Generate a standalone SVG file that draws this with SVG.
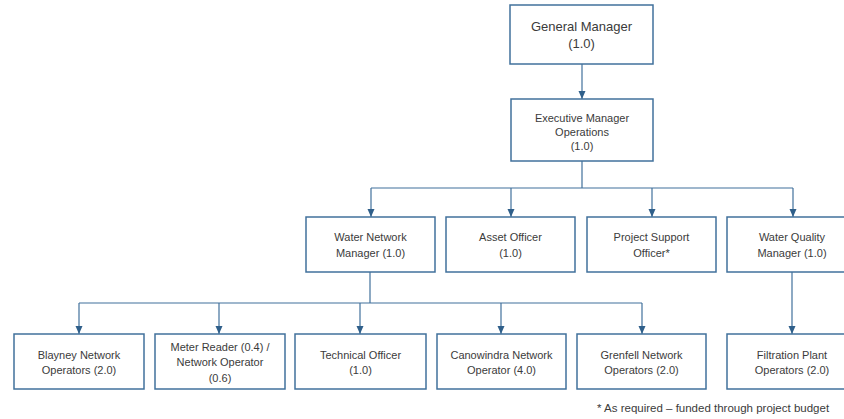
<svg xmlns="http://www.w3.org/2000/svg" width="844" height="419" viewBox="0 0 844 419">
<defs>
<marker id="arr" viewBox="0 0 8 8" refX="8" refY="4" markerWidth="8" markerHeight="8" markerUnits="userSpaceOnUse" orient="auto">
<path d="M0,0.5 L8,4 L0,7.5 Z" fill="#2f5f8a"/>
</marker>
<style>
.box{fill:#ffffff;stroke:#41719c;stroke-width:1.5}
.t{font-family:"Liberation Sans",Arial,sans-serif;font-size:11px;fill:#3b3b3b;text-anchor:middle}
.tl{font-family:"Liberation Sans",Arial,sans-serif;font-size:13px;fill:#3b3b3b;text-anchor:middle}
.c{fill:none;stroke:#41719c;stroke-width:1.2}
.ca{fill:none;stroke:#41719c;stroke-width:1.2;marker-end:url(#arr)}
</style>
</defs>
<rect width="844" height="419" fill="#ffffff"/>
<g id="connectors">
<path class="ca" d="M582,64 V99"/>
<path class="c" d="M582,161 V188 M371,188 H793"/>
<path class="ca" d="M371,188 V217"/>
<path class="ca" d="M511,188 V217"/>
<path class="ca" d="M652,188 V217"/>
<path class="ca" d="M793,188 V217"/>
<path class="c" d="M370,272 V303 M79,303 H642"/>
<path class="ca" d="M79,303 V334"/>
<path class="ca" d="M219,303 V334"/>
<path class="ca" d="M360,303 V334"/>
<path class="ca" d="M501,303 V334"/>
<path class="ca" d="M642,303 V334"/>
<path class="ca" d="M792,272 V334"/>
</g>
<g id="general-manager">
<rect class="box" x="510" y="5" width="143" height="59"/>
<text class="tl" x="581.5" y="31">General Manager</text>
<text class="tl" x="581.5" y="48">(1.0)</text>
</g>
<g id="executive-manager">
<rect class="box" x="511" y="99" width="142" height="62"/>
<text class="t" x="582" y="122">Executive Manager</text>
<text class="t" x="582" y="136">Operations</text>
<text class="t" x="582" y="150">(1.0)</text>
</g>
<g id="water-network-manager">
<rect class="box" x="306" y="217" width="129" height="55"/>
<text class="t" x="370.5" y="241">Water Network</text>
<text class="t" x="370.5" y="257">Manager (1.0)</text>
</g>
<g id="asset-officer">
<rect class="box" x="446" y="217" width="129" height="55"/>
<text class="t" x="510.5" y="241">Asset Officer</text>
<text class="t" x="510.5" y="257">(1.0)</text>
</g>
<g id="project-support-officer">
<rect class="box" x="587" y="217" width="129" height="55"/>
<text class="t" x="651.5" y="241">Project Support</text>
<text class="t" x="651.5" y="257">Officer*</text>
</g>
<g id="water-quality-manager">
<rect class="box" x="727" y="217" width="130" height="55"/>
<text class="t" x="792" y="241">Water Quality</text>
<text class="t" x="792" y="257">Manager (1.0)</text>
</g>
<g id="blayney">
<rect class="box" x="14" y="334" width="130" height="55"/>
<text class="t" x="79" y="359">Blayney Network</text>
<text class="t" x="79" y="374">Operators (2.0)</text>
</g>
<g id="meter-reader">
<rect class="box" x="155" y="334" width="130" height="55"/>
<text class="t" x="220" y="351">Meter Reader (0.4) /</text>
<text class="t" x="220" y="366">Network Operator</text>
<text class="t" x="220" y="382">(0.6)</text>
</g>
<g id="technical-officer">
<rect class="box" x="295" y="334" width="131" height="55"/>
<text class="t" x="360.5" y="359">Technical Officer</text>
<text class="t" x="360.5" y="374">(1.0)</text>
</g>
<g id="canowindra">
<rect class="box" x="437" y="334" width="129" height="55"/>
<text class="t" x="501.5" y="359">Canowindra Network</text>
<text class="t" x="501.5" y="374">Operator (4.0)</text>
</g>
<g id="grenfell">
<rect class="box" x="577" y="334" width="129" height="55"/>
<text class="t" x="641.5" y="359">Grenfell Network</text>
<text class="t" x="641.5" y="374">Operators (2.0)</text>
</g>
<g id="filtration">
<rect class="box" x="727" y="334" width="130" height="55"/>
<text class="t" x="792" y="359">Filtration Plant</text>
<text class="t" x="792" y="374">Operators (2.0)</text>
</g>
<text x="597" y="412" font-family="'Liberation Sans',Arial,sans-serif" font-size="11.5" fill="#3b3b3b">* As required – funded through project budget</text>
</svg>
